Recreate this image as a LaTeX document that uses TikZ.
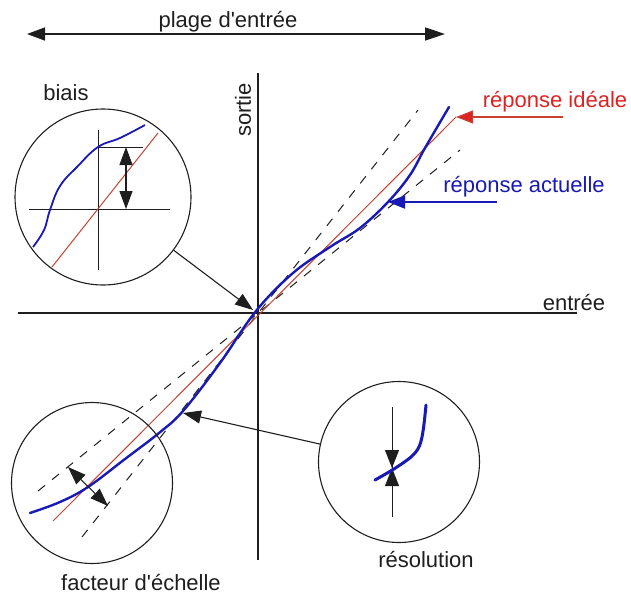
\documentclass[tikz,border=0pt]{standalone}
\usepackage{fontspec}
\setmainfont{Liberation Sans}[Ligatures=TeXOff]
\usetikzlibrary{arrows.meta,positioning}
\definecolor{inkGray}{RGB}{30,30,30}
\definecolor{idealRed}{RGB}{200,65,50}
\definecolor{labelRed}{RGB}{220,35,35}
\definecolor{actualBlue}{RGB}{25,25,180}
\tikzset{
  lbl/.style={font=\fontsize{22}{26}\selectfont, text=inkGray, inner sep=0pt},
  axis/.style={draw=inkGray, line width=1.2pt},
  ideal/.style={draw=idealRed, line width=1pt},
  actual/.style={draw=actualBlue, line width=2.4pt, line cap=round},
  bound/.style={draw=inkGray, line width=1pt, dash pattern=on 9pt off 9pt},
  lens/.style={circle, draw=inkGray, line width=1.1pt, inner sep=0pt, minimum size=161pt},
  pointer/.style={-{Triangle[length=18pt,width=13pt]}, draw=inkGray, line width=1.1pt},
  span/.style={{Triangle[length=18pt,width=13pt]}-{Triangle[length=20pt,width=13pt]}, draw=inkGray, line width=1.6pt},
  gauge/.style={{Triangle[length=18pt,width=13pt]}-{Triangle[length=18pt,width=13pt]}, draw=inkGray, line width=1.1pt}
}

\begin{document}
\begin{tikzpicture}[x=1pt, y=-1pt]
  \useasboundingbox (0,0) rectangle (631,595);
  % axes and range
  \coordinate (O) at (258,313);
  \coordinate (xL) at (18,313);
  \coordinate (xR) at (577,313);
  \coordinate (yB) at (258,560);
  \coordinate (yT) at (258,73);
  \coordinate (rangeL) at (27,34);
  \coordinate (rangeR) at (445,34);
  \draw[axis] (xL) -- (xR);
  \draw[axis] (yB) -- (yT);
  \draw[span] (rangeL) -- (rangeR);
  \node[lbl, anchor=base] (range) at (228,27) {plage d'entrée};
  \node[lbl, rotate=90] (out) at (243,110) {sortie};
  \node[lbl] (in) at (574,302) {entrée};

  % tolerance band and ideal line
  \coordinate (steepL) at (82,537);
  \coordinate (steepR) at (418,110);
  \coordinate (flatL) at (38,491);
  \coordinate (flatR) at (460,150);
  \coordinate (idealL) at (53,521);
  \coordinate (idealR) at (456,117);
  \draw[bound] (steepL) -- (steepR);
  \draw[bound] (flatL) -- (flatR);
  \draw[ideal] (idealL) -- (idealR);

  % actual response
  \draw[actual] plot[smooth, tension=0.6] coordinates {(30,513) (60,502) (88,487) (125,459) (159,433) (183,411) (220,363) (256,311) (293,273) (330,247) (360,228) (388,202) (410,175) (425,148) (449,107)};

  % labels of the curves
  \node[lbl, text=labelRed] (idealLabel) at (555,102) {réponse idéale};
  \node[lbl, text=actualBlue] (actualLabel) at (524,187) {réponse actuelle};
  \coordinate (idealTail) at (563,117);
  \coordinate (actualTail) at (497,202);
  \coordinate (actualTip) at (388,202);
  \draw[pointer, draw=idealRed, -{Triangle[length=17pt,width=13pt,fill=labelRed]}] (idealTail) -- (idealR);
  \draw[pointer, draw=actualBlue, line width=2pt, -{Triangle[length=17pt,width=13pt,fill=actualBlue]}] (actualTail) -- (actualTip);

  % biais
  \node[lens, minimum size=176pt] (biaisLens) at (103,197) {};
  \node[lbl] (biaisLabel) at (66,93) {biais};
  \coordinate (bO) at (98,209);
  \draw[axis, line width=1pt] (29,209) -- (170,209);
  \draw[axis, line width=1pt] (98,130) -- (98,270);
  \draw[ideal] (52,267) -- (158,133);
  \draw[axis, line width=1pt] (98,147) -- (143,147);
  \draw[actualBlue, line width=1.8pt] plot[smooth, tension=0.7] coordinates {(33,247) (44,230) (50,210) (60,186) (77,167) (98,147) (120,138) (145,125)};
  \draw[gauge] (126,147) -- (126,209);
  \coordinate (biaisTip) at (253,310);
  \draw[pointer] (biaisLens) -- (biaisTip);

  % facteur d'echelle
  \node[lens] (scaleLens) at (92,483) {};
  \node[lbl, below=10pt of scaleLens, xshift=49pt] (scaleLabel) {facteur d'échelle};
  \draw[gauge] (68,467) -- (108,506);

  % resolution
  \node[lens] (resLens) at (399,462) {};
  \node[lbl, below=8pt of resLens, xshift=27pt] (resLabel) {résolution};
  \coordinate (resTip) at (183,413);
  \coordinate (resMid) at (392,468);
  \draw[axis, line width=1pt] (392,407) -- (392,517);
  \draw[-{Triangle[length=18pt,width=14pt]}, draw=inkGray, line width=1pt] (392,440) -- (resMid);
  \draw[-{Triangle[length=18pt,width=14pt]}, draw=inkGray, line width=1pt] (392,500) -- (resMid);
  \draw[actual, line width=3pt] plot[smooth, tension=0.6] coordinates {(375,480) (397,467) (415,453) (422,437) (426,405)};
  \draw[pointer] (resLens) -- (resTip);
\end{tikzpicture}
\end{document}
